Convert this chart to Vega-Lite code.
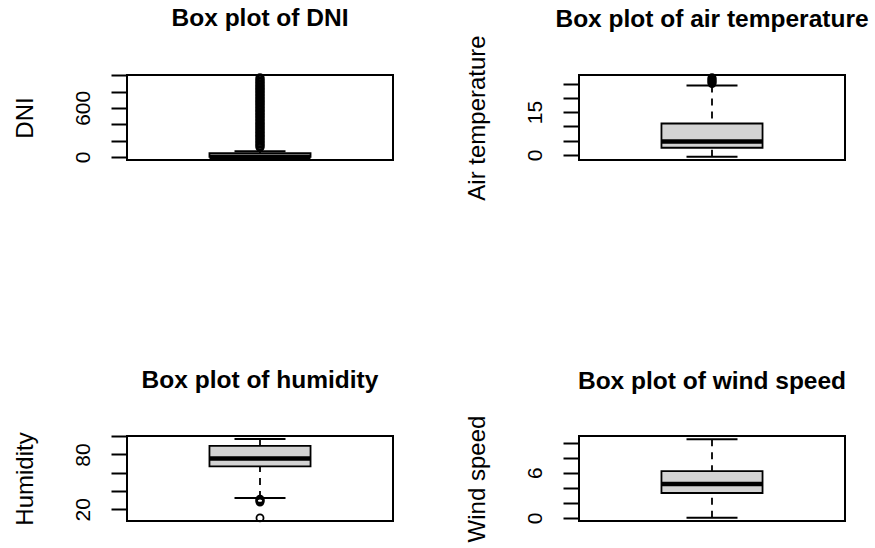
{
  "$schema": "https://vega.github.io/schema/vega-lite/v6.json",
  "background": "white",
  "padding": {"left": 12, "top": 4, "right": 0, "bottom": 0},
  "bounds": "flush",
  "columns": 2,
  "spacing": {"row": 276, "column": 186},
  "datasets": {
    "stats": [
      {"variable": "DNI", "lower": 0, "q1": 0, "median": 0, "q3": 45, "upper": 68},
      {"variable": "Air temperature", "lower": -0.7, "q1": 2.5, "median": 4.7, "q3": 11.0, "upper": 24.3},
      {"variable": "Humidity", "lower": 32.5, "q1": 67.0, "median": 75.5, "q3": 89.5, "upper": 96.8},
      {"variable": "Wind speed", "lower": 0, "q1": 3.3, "median": 4.5, "q3": 6.2, "upper": 10.45}
    ],
    "outliers": [
      {"variable": "DNI", "value": 118}, {"variable": "DNI", "value": 136}, {"variable": "DNI", "value": 155}, {"variable": "DNI", "value": 172},
      {"variable": "DNI", "value": 190}, {"variable": "DNI", "value": 208}, {"variable": "DNI", "value": 227}, {"variable": "DNI", "value": 245},
      {"variable": "DNI", "value": 262}, {"variable": "DNI", "value": 281}, {"variable": "DNI", "value": 299}, {"variable": "DNI", "value": 316},
      {"variable": "DNI", "value": 335}, {"variable": "DNI", "value": 352}, {"variable": "DNI", "value": 370}, {"variable": "DNI", "value": 389},
      {"variable": "DNI", "value": 406}, {"variable": "DNI", "value": 424}, {"variable": "DNI", "value": 443}, {"variable": "DNI", "value": 460},
      {"variable": "DNI", "value": 478}, {"variable": "DNI", "value": 497}, {"variable": "DNI", "value": 514}, {"variable": "DNI", "value": 532},
      {"variable": "DNI", "value": 551}, {"variable": "DNI", "value": 568}, {"variable": "DNI", "value": 586}, {"variable": "DNI", "value": 604},
      {"variable": "DNI", "value": 622}, {"variable": "DNI", "value": 640}, {"variable": "DNI", "value": 658}, {"variable": "DNI", "value": 676},
      {"variable": "DNI", "value": 694}, {"variable": "DNI", "value": 712}, {"variable": "DNI", "value": 730}, {"variable": "DNI", "value": 748},
      {"variable": "DNI", "value": 766}, {"variable": "DNI", "value": 784}, {"variable": "DNI", "value": 802}, {"variable": "DNI", "value": 820},
      {"variable": "DNI", "value": 838}, {"variable": "DNI", "value": 856}, {"variable": "DNI", "value": 874}, {"variable": "DNI", "value": 892},
      {"variable": "DNI", "value": 910}, {"variable": "DNI", "value": 928}, {"variable": "DNI", "value": 946}, {"variable": "DNI", "value": 968},
      {"variable": "Air temperature", "value": 25.0}, {"variable": "Air temperature", "value": 25.3}, {"variable": "Air temperature", "value": 25.6},
      {"variable": "Air temperature", "value": 25.9}, {"variable": "Air temperature", "value": 26.2}, {"variable": "Air temperature", "value": 26.5},
      {"variable": "Air temperature", "value": 26.8}, {"variable": "Air temperature", "value": 27.1},
      {"variable": "Humidity", "value": 28.0}, {"variable": "Humidity", "value": 28.8}, {"variable": "Humidity", "value": 29.6},
      {"variable": "Humidity", "value": 30.4}, {"variable": "Humidity", "value": 31.2}, {"variable": "Humidity", "value": 10.7}
    ]
  },
  "config": {
    "font": "Liberation Sans",
    "view": {"stroke": "black", "strokeWidth": 2},
    "title": {"font": "Liberation Sans", "fontSize": 24.5, "fontWeight": "bold", "color": "black", "anchor": "middle", "frame": "group", "baseline": "alphabetic"},
    "axisY": {
      "grid": false, "domain": false, "ticks": true, "tickSize": 16, "tickWidth": 2, "tickColor": "black",
      "labelFont": "Liberation Sans", "labelFontSize": 21, "labelColor": "black", "labelAngle": -90,
      "labelAlign": "center", "labelBaseline": "alphabetic", "labelPadding": 22, "labelOverlap": false, "labelFlush": false,
      "titleFont": "Liberation Sans", "titleFontSize": 24, "titleFontWeight": "normal", "titleColor": "black",
      "titleAngle": -90, "titleAlign": "center", "titleBaseline": "alphabetic", "titleX": -95, "titleY": 42.5
    }
  },
  "concat": [
    {
      "width": 266, "height": 85,
      "title": {"text": "Box plot of DNI", "offset": 39},
      "layer": [
        {"data": {"name": "stats"}, "transform": [{"filter": "datum.variable == 'DNI'"}],
         "mark": {"type": "rule", "color": "black", "strokeWidth": 1.8, "strokeDash": [7, 6]},
         "encoding": {"x": {"field": "variable", "type": "nominal", "axis": null, "scale": {"paddingOuter": 0.8158, "paddingInner": 0}},
           "y": {"field": "lower", "type": "quantitative", "title": "DNI", "scale": {"domain": [-38.5, 1002], "nice": false, "zero": false}, "axis": {"values": [0, 200, 400, 600, 800, 1000], "labelExpr": "datum.value == 0 || datum.value == 600 ? datum.label : ''"}},
           "y2": {"field": "q1"}}},
        {"data": {"name": "stats"}, "transform": [{"filter": "datum.variable == 'DNI'"}],
         "mark": {"type": "rule", "color": "black", "strokeWidth": 1.8, "strokeDash": [7, 6]},
         "encoding": {"x": {"field": "variable", "type": "nominal", "axis": null, "scale": {"paddingOuter": 0.8158, "paddingInner": 0}},
           "y": {"field": "upper", "type": "quantitative", "title": "DNI", "scale": {"domain": [-38.5, 1002], "nice": false, "zero": false}, "axis": {"values": [0, 200, 400, 600, 800, 1000], "labelExpr": "datum.value == 0 || datum.value == 600 ? datum.label : ''"}},
           "y2": {"field": "q3"}}},
        {"data": {"name": "stats"}, "transform": [{"filter": "datum.variable == 'DNI'"}],
         "mark": {"type": "bar", "fill": "#d3d3d3", "stroke": "black", "strokeWidth": 1.8, "opacity": 1},
         "encoding": {"x": {"field": "variable", "type": "nominal", "axis": null, "scale": {"paddingOuter": 0.8158, "paddingInner": 0}},
           "y": {"field": "q1", "type": "quantitative", "title": "DNI", "scale": {"domain": [-38.5, 1002], "nice": false, "zero": false}, "axis": {"values": [0, 200, 400, 600, 800, 1000], "labelExpr": "datum.value == 0 || datum.value == 600 ? datum.label : ''"}},
           "y2": {"field": "q3"}}},
        {"data": {"name": "stats"}, "transform": [{"filter": "datum.variable == 'DNI'"}],
         "mark": {"type": "tick", "color": "black", "opacity": 1, "size": 101, "thickness": 4.5},
         "encoding": {"x": {"field": "variable", "type": "nominal", "axis": null, "scale": {"paddingOuter": 0.8158, "paddingInner": 0}},
           "y": {"field": "median", "type": "quantitative", "title": "DNI", "scale": {"domain": [-38.5, 1002], "nice": false, "zero": false}, "axis": {"values": [0, 200, 400, 600, 800, 1000], "labelExpr": "datum.value == 0 || datum.value == 600 ? datum.label : ''"}}}},
        {"data": {"name": "stats"}, "transform": [{"filter": "datum.variable == 'DNI'"}],
         "mark": {"type": "tick", "color": "black", "opacity": 1, "size": 51, "thickness": 2},
         "encoding": {"x": {"field": "variable", "type": "nominal", "axis": null, "scale": {"paddingOuter": 0.8158, "paddingInner": 0}},
           "y": {"field": "lower", "type": "quantitative", "title": "DNI", "scale": {"domain": [-38.5, 1002], "nice": false, "zero": false}, "axis": {"values": [0, 200, 400, 600, 800, 1000], "labelExpr": "datum.value == 0 || datum.value == 600 ? datum.label : ''"}}}},
        {"data": {"name": "stats"}, "transform": [{"filter": "datum.variable == 'DNI'"}],
         "mark": {"type": "tick", "color": "black", "opacity": 1, "size": 51, "thickness": 2},
         "encoding": {"x": {"field": "variable", "type": "nominal", "axis": null, "scale": {"paddingOuter": 0.8158, "paddingInner": 0}},
           "y": {"field": "upper", "type": "quantitative", "title": "DNI", "scale": {"domain": [-38.5, 1002], "nice": false, "zero": false}, "axis": {"values": [0, 200, 400, 600, 800, 1000], "labelExpr": "datum.value == 0 || datum.value == 600 ? datum.label : ''"}}}},
        {"data": {"name": "outliers"}, "transform": [{"filter": "datum.variable == 'DNI'"}],
         "mark": {"type": "point", "shape": "circle", "filled": false, "stroke": "black", "strokeWidth": 1.8, "size": 56, "opacity": 1},
         "encoding": {"x": {"field": "variable", "type": "nominal", "axis": null, "scale": {"paddingOuter": 0.8158, "paddingInner": 0}},
           "y": {"field": "value", "type": "quantitative", "title": "DNI", "scale": {"domain": [-38.5, 1002], "nice": false, "zero": false}, "axis": {"values": [0, 200, 400, 600, 800, 1000], "labelExpr": "datum.value == 0 || datum.value == 600 ? datum.label : ''"}}}}
      ]
    },
    {
      "width": 266, "height": 85,
      "title": {"text": "Box plot of air temperature", "offset": 2},
      "layer": [
        {"data": {"name": "stats"}, "transform": [{"filter": "datum.variable == 'Air temperature'"}],
         "mark": {"type": "rule", "color": "black", "strokeWidth": 1.8, "strokeDash": [7, 6]},
         "encoding": {"x": {"field": "variable", "type": "nominal", "axis": null, "scale": {"paddingOuter": 0.8158, "paddingInner": 0}},
           "y": {"field": "lower", "type": "quantitative", "title": "Air temperature", "scale": {"domain": [-1.8, 28.0], "nice": false, "zero": false}, "axis": {"values": [0, 5, 10, 15, 20, 25], "labelExpr": "datum.value == 0 || datum.value == 15 ? datum.label : ''"}},
           "y2": {"field": "q1"}}},
        {"data": {"name": "stats"}, "transform": [{"filter": "datum.variable == 'Air temperature'"}],
         "mark": {"type": "rule", "color": "black", "strokeWidth": 1.8, "strokeDash": [7, 6]},
         "encoding": {"x": {"field": "variable", "type": "nominal", "axis": null, "scale": {"paddingOuter": 0.8158, "paddingInner": 0}},
           "y": {"field": "upper", "type": "quantitative", "title": "Air temperature", "scale": {"domain": [-1.8, 28.0], "nice": false, "zero": false}, "axis": {"values": [0, 5, 10, 15, 20, 25], "labelExpr": "datum.value == 0 || datum.value == 15 ? datum.label : ''"}},
           "y2": {"field": "q3"}}},
        {"data": {"name": "stats"}, "transform": [{"filter": "datum.variable == 'Air temperature'"}],
         "mark": {"type": "bar", "fill": "#d3d3d3", "stroke": "black", "strokeWidth": 1.8, "opacity": 1},
         "encoding": {"x": {"field": "variable", "type": "nominal", "axis": null, "scale": {"paddingOuter": 0.8158, "paddingInner": 0}},
           "y": {"field": "q1", "type": "quantitative", "title": "Air temperature", "scale": {"domain": [-1.8, 28.0], "nice": false, "zero": false}, "axis": {"values": [0, 5, 10, 15, 20, 25], "labelExpr": "datum.value == 0 || datum.value == 15 ? datum.label : ''"}},
           "y2": {"field": "q3"}}},
        {"data": {"name": "stats"}, "transform": [{"filter": "datum.variable == 'Air temperature'"}],
         "mark": {"type": "tick", "color": "black", "opacity": 1, "size": 101, "thickness": 4.5},
         "encoding": {"x": {"field": "variable", "type": "nominal", "axis": null, "scale": {"paddingOuter": 0.8158, "paddingInner": 0}},
           "y": {"field": "median", "type": "quantitative", "title": "Air temperature", "scale": {"domain": [-1.8, 28.0], "nice": false, "zero": false}, "axis": {"values": [0, 5, 10, 15, 20, 25], "labelExpr": "datum.value == 0 || datum.value == 15 ? datum.label : ''"}}}},
        {"data": {"name": "stats"}, "transform": [{"filter": "datum.variable == 'Air temperature'"}],
         "mark": {"type": "tick", "color": "black", "opacity": 1, "size": 51, "thickness": 2},
         "encoding": {"x": {"field": "variable", "type": "nominal", "axis": null, "scale": {"paddingOuter": 0.8158, "paddingInner": 0}},
           "y": {"field": "lower", "type": "quantitative", "title": "Air temperature", "scale": {"domain": [-1.8, 28.0], "nice": false, "zero": false}, "axis": {"values": [0, 5, 10, 15, 20, 25], "labelExpr": "datum.value == 0 || datum.value == 15 ? datum.label : ''"}}}},
        {"data": {"name": "stats"}, "transform": [{"filter": "datum.variable == 'Air temperature'"}],
         "mark": {"type": "tick", "color": "black", "opacity": 1, "size": 51, "thickness": 2},
         "encoding": {"x": {"field": "variable", "type": "nominal", "axis": null, "scale": {"paddingOuter": 0.8158, "paddingInner": 0}},
           "y": {"field": "upper", "type": "quantitative", "title": "Air temperature", "scale": {"domain": [-1.8, 28.0], "nice": false, "zero": false}, "axis": {"values": [0, 5, 10, 15, 20, 25], "labelExpr": "datum.value == 0 || datum.value == 15 ? datum.label : ''"}}}},
        {"data": {"name": "outliers"}, "transform": [{"filter": "datum.variable == 'Air temperature'"}],
         "mark": {"type": "point", "shape": "circle", "filled": false, "stroke": "black", "strokeWidth": 1.8, "size": 50, "opacity": 1},
         "encoding": {"x": {"field": "variable", "type": "nominal", "axis": null, "scale": {"paddingOuter": 0.8158, "paddingInner": 0}},
           "y": {"field": "value", "type": "quantitative", "title": "Air temperature", "scale": {"domain": [-1.8, 28.0], "nice": false, "zero": false}, "axis": {"values": [0, 5, 10, 15, 20, 25], "labelExpr": "datum.value == 0 || datum.value == 15 ? datum.label : ''"}}}}
      ]
    },
    {
      "width": 266, "height": 85,
      "title": {"text": "Box plot of humidity", "offset": 38},
      "layer": [
        {"data": {"name": "stats"}, "transform": [{"filter": "datum.variable == 'Humidity'"}],
         "mark": {"type": "rule", "color": "black", "strokeWidth": 1.8, "strokeDash": [7, 6]},
         "encoding": {"x": {"field": "variable", "type": "nominal", "axis": null, "scale": {"paddingOuter": 0.8158, "paddingInner": 0}},
           "y": {"field": "lower", "type": "quantitative", "title": "Humidity", "scale": {"domain": [7.3, 100.2], "nice": false, "zero": false}, "axis": {"values": [20, 40, 60, 80, 100], "labelExpr": "datum.value == 20 || datum.value == 80 ? datum.label : ''"}},
           "y2": {"field": "q1"}}},
        {"data": {"name": "stats"}, "transform": [{"filter": "datum.variable == 'Humidity'"}],
         "mark": {"type": "rule", "color": "black", "strokeWidth": 1.8, "strokeDash": [7, 6]},
         "encoding": {"x": {"field": "variable", "type": "nominal", "axis": null, "scale": {"paddingOuter": 0.8158, "paddingInner": 0}},
           "y": {"field": "upper", "type": "quantitative", "title": "Humidity", "scale": {"domain": [7.3, 100.2], "nice": false, "zero": false}, "axis": {"values": [20, 40, 60, 80, 100], "labelExpr": "datum.value == 20 || datum.value == 80 ? datum.label : ''"}},
           "y2": {"field": "q3"}}},
        {"data": {"name": "stats"}, "transform": [{"filter": "datum.variable == 'Humidity'"}],
         "mark": {"type": "bar", "fill": "#d3d3d3", "stroke": "black", "strokeWidth": 1.8, "opacity": 1},
         "encoding": {"x": {"field": "variable", "type": "nominal", "axis": null, "scale": {"paddingOuter": 0.8158, "paddingInner": 0}},
           "y": {"field": "q1", "type": "quantitative", "title": "Humidity", "scale": {"domain": [7.3, 100.2], "nice": false, "zero": false}, "axis": {"values": [20, 40, 60, 80, 100], "labelExpr": "datum.value == 20 || datum.value == 80 ? datum.label : ''"}},
           "y2": {"field": "q3"}}},
        {"data": {"name": "stats"}, "transform": [{"filter": "datum.variable == 'Humidity'"}],
         "mark": {"type": "tick", "color": "black", "opacity": 1, "size": 101, "thickness": 4.5},
         "encoding": {"x": {"field": "variable", "type": "nominal", "axis": null, "scale": {"paddingOuter": 0.8158, "paddingInner": 0}},
           "y": {"field": "median", "type": "quantitative", "title": "Humidity", "scale": {"domain": [7.3, 100.2], "nice": false, "zero": false}, "axis": {"values": [20, 40, 60, 80, 100], "labelExpr": "datum.value == 20 || datum.value == 80 ? datum.label : ''"}}}},
        {"data": {"name": "stats"}, "transform": [{"filter": "datum.variable == 'Humidity'"}],
         "mark": {"type": "tick", "color": "black", "opacity": 1, "size": 51, "thickness": 2},
         "encoding": {"x": {"field": "variable", "type": "nominal", "axis": null, "scale": {"paddingOuter": 0.8158, "paddingInner": 0}},
           "y": {"field": "lower", "type": "quantitative", "title": "Humidity", "scale": {"domain": [7.3, 100.2], "nice": false, "zero": false}, "axis": {"values": [20, 40, 60, 80, 100], "labelExpr": "datum.value == 20 || datum.value == 80 ? datum.label : ''"}}}},
        {"data": {"name": "stats"}, "transform": [{"filter": "datum.variable == 'Humidity'"}],
         "mark": {"type": "tick", "color": "black", "opacity": 1, "size": 51, "thickness": 2},
         "encoding": {"x": {"field": "variable", "type": "nominal", "axis": null, "scale": {"paddingOuter": 0.8158, "paddingInner": 0}},
           "y": {"field": "upper", "type": "quantitative", "title": "Humidity", "scale": {"domain": [7.3, 100.2], "nice": false, "zero": false}, "axis": {"values": [20, 40, 60, 80, 100], "labelExpr": "datum.value == 20 || datum.value == 80 ? datum.label : ''"}}}},
        {"data": {"name": "outliers"}, "transform": [{"filter": "datum.variable == 'Humidity'"}],
         "mark": {"type": "point", "shape": "circle", "filled": false, "stroke": "black", "strokeWidth": 1.8, "size": 50, "opacity": 1},
         "encoding": {"x": {"field": "variable", "type": "nominal", "axis": null, "scale": {"paddingOuter": 0.8158, "paddingInner": 0}},
           "y": {"field": "value", "type": "quantitative", "title": "Humidity", "scale": {"domain": [7.3, 100.2], "nice": false, "zero": false}, "axis": {"values": [20, 40, 60, 80, 100], "labelExpr": "datum.value == 20 || datum.value == 80 ? datum.label : ''"}}}}
      ]
    },
    {
      "width": 266, "height": 85,
      "title": {"text": "Box plot of wind speed", "offset": 21},
      "layer": [
        {"data": {"name": "stats"}, "transform": [{"filter": "datum.variable == 'Wind speed'"}],
         "mark": {"type": "rule", "color": "black", "strokeWidth": 1.8, "strokeDash": [7, 6]},
         "encoding": {"x": {"field": "variable", "type": "nominal", "axis": null, "scale": {"paddingOuter": 0.8158, "paddingInner": 0}},
           "y": {"field": "lower", "type": "quantitative", "title": "Wind speed", "scale": {"domain": [-0.42, 10.87], "nice": false, "zero": false}, "axis": {"values": [0, 2, 4, 6, 8, 10], "labelExpr": "datum.value == 0 || datum.value == 6 ? datum.label : ''"}},
           "y2": {"field": "q1"}}},
        {"data": {"name": "stats"}, "transform": [{"filter": "datum.variable == 'Wind speed'"}],
         "mark": {"type": "rule", "color": "black", "strokeWidth": 1.8, "strokeDash": [7, 6]},
         "encoding": {"x": {"field": "variable", "type": "nominal", "axis": null, "scale": {"paddingOuter": 0.8158, "paddingInner": 0}},
           "y": {"field": "upper", "type": "quantitative", "title": "Wind speed", "scale": {"domain": [-0.42, 10.87], "nice": false, "zero": false}, "axis": {"values": [0, 2, 4, 6, 8, 10], "labelExpr": "datum.value == 0 || datum.value == 6 ? datum.label : ''"}},
           "y2": {"field": "q3"}}},
        {"data": {"name": "stats"}, "transform": [{"filter": "datum.variable == 'Wind speed'"}],
         "mark": {"type": "bar", "fill": "#d3d3d3", "stroke": "black", "strokeWidth": 1.8, "opacity": 1},
         "encoding": {"x": {"field": "variable", "type": "nominal", "axis": null, "scale": {"paddingOuter": 0.8158, "paddingInner": 0}},
           "y": {"field": "q1", "type": "quantitative", "title": "Wind speed", "scale": {"domain": [-0.42, 10.87], "nice": false, "zero": false}, "axis": {"values": [0, 2, 4, 6, 8, 10], "labelExpr": "datum.value == 0 || datum.value == 6 ? datum.label : ''"}},
           "y2": {"field": "q3"}}},
        {"data": {"name": "stats"}, "transform": [{"filter": "datum.variable == 'Wind speed'"}],
         "mark": {"type": "tick", "color": "black", "opacity": 1, "size": 101, "thickness": 4.5},
         "encoding": {"x": {"field": "variable", "type": "nominal", "axis": null, "scale": {"paddingOuter": 0.8158, "paddingInner": 0}},
           "y": {"field": "median", "type": "quantitative", "title": "Wind speed", "scale": {"domain": [-0.42, 10.87], "nice": false, "zero": false}, "axis": {"values": [0, 2, 4, 6, 8, 10], "labelExpr": "datum.value == 0 || datum.value == 6 ? datum.label : ''"}}}},
        {"data": {"name": "stats"}, "transform": [{"filter": "datum.variable == 'Wind speed'"}],
         "mark": {"type": "tick", "color": "black", "opacity": 1, "size": 51, "thickness": 2},
         "encoding": {"x": {"field": "variable", "type": "nominal", "axis": null, "scale": {"paddingOuter": 0.8158, "paddingInner": 0}},
           "y": {"field": "lower", "type": "quantitative", "title": "Wind speed", "scale": {"domain": [-0.42, 10.87], "nice": false, "zero": false}, "axis": {"values": [0, 2, 4, 6, 8, 10], "labelExpr": "datum.value == 0 || datum.value == 6 ? datum.label : ''"}}}},
        {"data": {"name": "stats"}, "transform": [{"filter": "datum.variable == 'Wind speed'"}],
         "mark": {"type": "tick", "color": "black", "opacity": 1, "size": 51, "thickness": 2},
         "encoding": {"x": {"field": "variable", "type": "nominal", "axis": null, "scale": {"paddingOuter": 0.8158, "paddingInner": 0}},
           "y": {"field": "upper", "type": "quantitative", "title": "Wind speed", "scale": {"domain": [-0.42, 10.87], "nice": false, "zero": false}, "axis": {"values": [0, 2, 4, 6, 8, 10], "labelExpr": "datum.value == 0 || datum.value == 6 ? datum.label : ''"}}}}
      ]
    }
  ]
}
